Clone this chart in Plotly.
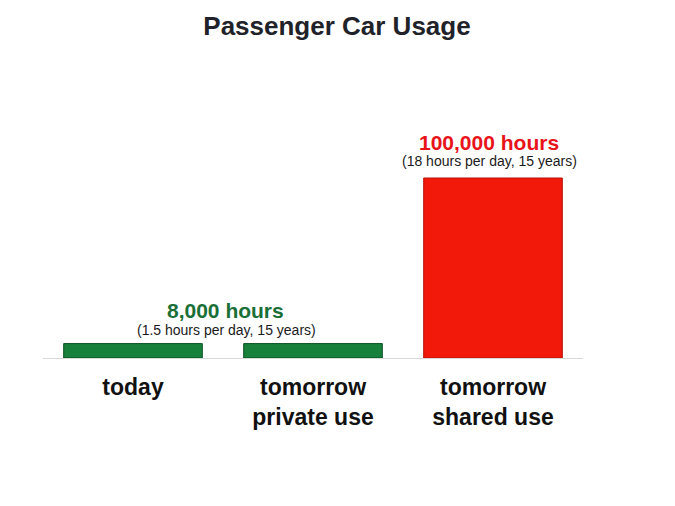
import plotly.graph_objects as go

categories = ["today", "tomorrow private use", "tomorrow shared use"]
tick_labels = ["today", "tomorrow<br>private use", "tomorrow<br>shared use"]
hours = [8000, 8000, 100000]
bar_colors = ["#17803a", "#17803a", "#f2180a"]
edge_colors = ["#0b4f22", "#0b4f22", "#b51208"]

green_label = "8,000 hours"
green_note = "(1.5 hours per day, 15 years)"
red_label = "100,000 hours"
red_note = "(18 hours per day, 15 years)"


def main():
    fig = go.Figure()
    fig.add_trace(go.Bar(
        x=categories, y=hours, width=0.77,
        marker=dict(color=bar_colors, line=dict(color=edge_colors, width=1)),
        hoverinfo="skip", showlegend=False,
    ))

    # labels above the bars
    fig.add_annotation(x=0.5, y=hours[0], text="<b>" + green_label + "</b>",
                       xref="x", yref="y", showarrow=False, yanchor="middle", yshift=33, xshift=2,
                       font=dict(family="Arial, Liberation Sans", size=21, color="#1a6f37"))
    fig.add_annotation(x=0.5, y=hours[0], text=green_note,
                       xref="x", yref="y", showarrow=False, yanchor="middle", yshift=14, xshift=3,
                       font=dict(family="Arial, Liberation Sans", size=14, color="#1a1a1a"))
    fig.add_annotation(x=categories[2], y=hours[2], text="<b>" + red_label + "</b>",
                       xref="x", yref="y", showarrow=False, yanchor="middle", yshift=36, xshift=-4,
                       font=dict(family="Arial, Liberation Sans", size=21, color="#e8141a"))
    fig.add_annotation(x=categories[2], y=hours[2], text=red_note,
                       xref="x", yref="y", showarrow=False, yanchor="middle", yshift=17, xshift=-4,
                       font=dict(family="Arial, Liberation Sans", size=14, color="#1a1a1a"))

    # page has an 8px body margin, so everything is pulled up/left by 8
    fig.update_layout(
        width=675, height=506,
        margin=dict(l=35, r=100, t=80, b=156),
        paper_bgcolor="white", plot_bgcolor="white",
        title=dict(text="<b>Passenger Car Usage</b>", x=0.4874, xref="container", xanchor="center",
                   y=0.964, yanchor="middle",
                   font=dict(family="Arial, Liberation Sans", size=26, color="#1f2329")),
        xaxis=dict(tickvals=categories, ticktext=["<b>" + t + "</b>" for t in tick_labels],
                   showline=True, linecolor="#d9d9d9", linewidth=1, ticks="",
                   ticklabelstandoff=8, showgrid=False, fixedrange=True,
                   tickfont=dict(family="Arial, Liberation Sans", size=23, color="#111111")),
        yaxis=dict(range=[0, 150000], visible=False, showgrid=False, zeroline=False),
        bargap=0.23,
    )

    fig.write_html("out.html")


if __name__ == "__main__":
    main()
